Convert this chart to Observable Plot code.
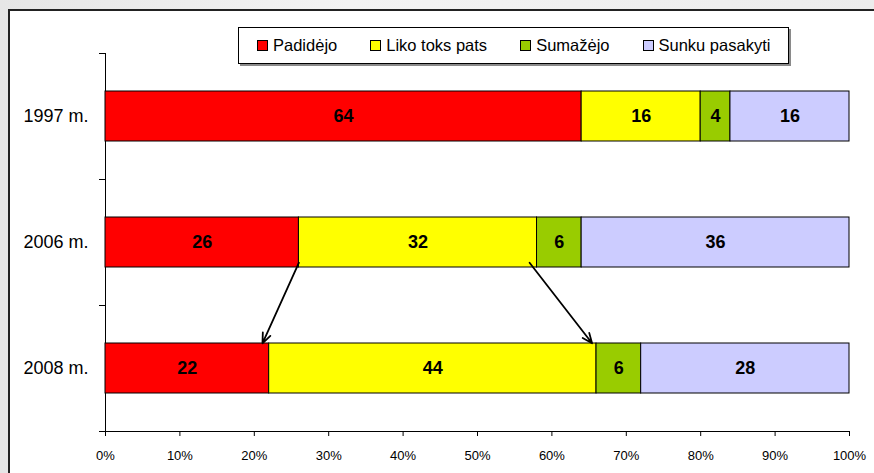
<!DOCTYPE html>
<html>
<head>
<meta charset="utf-8">
<script src="https://cdn.jsdelivr.net/npm/d3@7"></script>
<script src="https://cdn.jsdelivr.net/npm/@observablehq/plot@0.6"></script>
<style>
  html, body { margin: 0; padding: 0; }
  body { width: 874px; height: 473px; overflow: hidden; font-family: "Liberation Sans", Arial, sans-serif; }
  #wrap { position: relative; width: 874px; height: 473px;
    background: linear-gradient(90deg, #e6e6e6 0%, #f3f3f3 40%, #ececec 100%); }
  #card { position: absolute; left: 8px; top: 9px; width: 880px; height: 480px; background: #fff;
    border-top: 2px solid #222; border-left: 2px solid #222; }
  #chart { position: absolute; left: 0; top: 0; }
  #legend { position: absolute; left: 238px; top: 27px; width: 551px; height: 37px; box-sizing: border-box;
    border: 1px solid #000; background: #fff; box-shadow: 2px 2px 0 #8a8a8a;
    display: flex; align-items: center; padding-left: 18px; gap: 33px; font-size: 16.5px; color: #000; }
  .item { display: flex; align-items: center; gap: 5px; white-space: nowrap; }
  .sw { width: 9px; height: 9px; border: 1px solid #000; display: inline-block; }
</style>
</head>
<body>
<div id="wrap">
  <div id="card"></div>
  <div id="chart"></div>
  <div id="legend"></div>
</div>
<script>
const years = ["1997 m.", "2006 m.", "2008 m."];
const answers = ["Padidėjo", "Liko toks pats", "Sumažėjo", "Sunku pasakyti"];
const padidejo = [64, 26, 22];
const likoToksPats = [16, 32, 44];
const sumazejo = [4, 6, 6];
const sunkuPasakyti = [16, 36, 28];
const colors = ["#ff0000", "#ffff00", "#99cc00", "#ccccff"];
const xTicks = [0, 10, 20, 30, 40, 50, 60, 70, 80, 90, 100];
// arrows: from 2006 bar to 2008 bar
const arrowFrom = [26, 57];
const arrowTo = [21.1, 65.4];

const series = [padidejo, likoToksPats, sumazejo, sunkuPasakyti];
const rows = [];
years.forEach((y, i) => answers.forEach((a, j) => rows.push({year: y, answer: a, value: series[j][i]})));
const arrows = arrowFrom.map((f, i) => ({x1: f, x2: arrowTo[i], y1: years[1], y2: years[2]}));

const W = 874, H = 473, mL = 105, mR = 25, mT = 53, mB = 42;
const step = (H - mT - mB) / years.length;
const bw = step * 0.4;

const chart = Plot.plot({
  width: W, height: H,
  marginLeft: mL, marginRight: mR, marginTop: mT, marginBottom: mB,
  style: {background: "transparent", fontFamily: "Liberation Sans, Arial, sans-serif", color: "#000"},
  x: {domain: [0, 100], ticks: xTicks, tickFormat: d => d + "%", label: null, line: true},
  y: {domain: years, paddingInner: 0.6, paddingOuter: 0.3, label: null, line: true},
  color: {domain: answers, range: colors},
  marks: [
    Plot.axisY({tickSize: 0, tickPadding: 17, fontSize: 18, label: null}),
    Plot.axisX({ticks: xTicks, tickFormat: d => d + "%", tickSize: 5, tickPadding: 14, fontSize: 13, label: null}),
    Plot.ruleX([0], {stroke: "#000"}),
    Plot.tickY(years, {y: d => d, dy: -step / 2, insetLeft: -6, insetRight: W - mL - mR, stroke: "#000"}),
    Plot.tickY([years[years.length - 1]], {y: d => d, dy: step / 2, insetLeft: -6, insetRight: 0, stroke: "#000"}),
    Plot.barX(rows, Plot.stackX({x: "value", y: "year", fill: "answer", stroke: "#000", strokeWidth: 1})),
    Plot.text(rows, Plot.stackX({x: "value", y: "year", text: d => String(d.value), fontWeight: "bold", fontSize: 18, fill: "#000"})),
    Plot.arrow(arrows, {
      x1: "x1", x2: "x2", y1: "y1", y2: "y2", stroke: "#000", strokeWidth: 1.8, headLength: 9, headAngle: 45,
      render(index, scales, values, dimensions, context, next) {
        const v = {...values,
          y1: Array.from(values.y1, d => d + bw / 2 - 5),
          y2: Array.from(values.y2, d => d - bw / 2)};
        return next(index, scales, v, dimensions, context);
      }
    })
  ]
});
document.getElementById("chart").appendChild(chart);

const legend = document.getElementById("legend");
answers.forEach((a, j) => {
  const it = document.createElement("div");
  it.className = "item";
  const sw = document.createElement("span");
  sw.className = "sw";
  sw.style.background = colors[j];
  const t = document.createElement("span");
  t.textContent = a;
  it.appendChild(sw); it.appendChild(t);
  legend.appendChild(it);
});
</script>
</body>
</html>
